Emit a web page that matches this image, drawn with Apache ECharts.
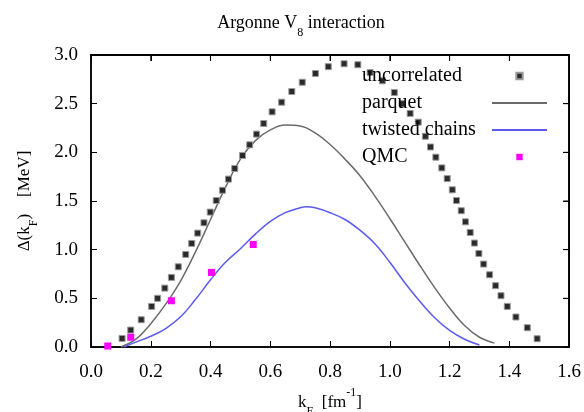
<!DOCTYPE html>
<html><head><meta charset="utf-8">
<script src="https://cdn.jsdelivr.net/npm/echarts@6/dist/echarts.min.js"></script>
<style>html,body{margin:0;padding:0;background:#fff;overflow:hidden}#wrap{position:relative;width:584px;height:412px}#c{width:584px;height:412px}#frame{position:absolute;left:0;top:0;width:584px;height:412px;pointer-events:none}</style>
</head><body><div id="wrap"><div id="c"></div><svg id="frame" xmlns="http://www.w3.org/2000/svg" width="584" height="412"></svg></div>
<script>
// Data
const uncorrelated = [[0.104,0.088],[0.133,0.174],[0.168,0.28],[0.203,0.417],[0.223,0.50],[0.247,0.605],[0.269,0.715],[0.292,0.824],[0.317,0.951],[0.337,1.064],[0.357,1.17],[0.378,1.276],[0.399,1.386],[0.419,1.505],[0.44,1.61],[0.46,1.725],[0.481,1.834],[0.507,1.967],[0.531,2.077],[0.554,2.187],[0.578,2.296],[0.606,2.416],[0.638,2.515],[0.672,2.625],[0.707,2.72],[0.751,2.81],[0.794,2.88],[0.847,2.91],[0.893,2.90],[0.934,2.82],[0.975,2.735],[1.015,2.615],[1.041,2.50],[1.068,2.40],[1.095,2.31],[1.119,2.165],[1.136,2.055],[1.154,1.95],[1.174,1.84],[1.192,1.73],[1.209,1.615],[1.223,1.505],[1.239,1.40],[1.253,1.286],[1.269,1.177],[1.283,1.068],[1.298,0.961],[1.314,0.852],[1.334,0.742],[1.354,0.63],[1.372,0.527],[1.393,0.417],[1.422,0.308],[1.46,0.198],[1.493,0.085]];
const parquetK = [0.10,0.15,0.20,0.25,0.30,0.35,0.40,0.45,0.50,0.55,0.60,0.65,0.70,0.75,0.80,0.85,0.90,0.95,1.00,1.05,1.10,1.15,1.20,1.25,1.30,1.35];
const parquetV = [0.00,0.08,0.24,0.44,0.68,0.98,1.31,1.64,1.93,2.12,2.23,2.28,2.27,2.20,2.08,1.93,1.76,1.55,1.32,1.08,0.84,0.61,0.40,0.22,0.10,0.04];
const twistedK = [0.11,0.15,0.20,0.25,0.30,0.35,0.40,0.45,0.50,0.55,0.60,0.65,0.70,0.72,0.75,0.80,0.85,0.90,0.95,1.00,1.05,1.10,1.15,1.20,1.25,1.30];
const twistedV = [0.00,0.05,0.11,0.19,0.31,0.49,0.69,0.87,1.01,1.16,1.29,1.38,1.43,1.44,1.43,1.38,1.31,1.20,1.06,0.87,0.66,0.47,0.30,0.17,0.08,0.02];
const qmc = [[0.056,0.01],[0.133,0.10],[0.269,0.475],[0.403,0.766],[0.543,1.053]];
const xTicks = {min:0, max:1.6, interval:0.2};
const yTicks = {min:0, max:3.0, interval:0.5};

const serif = '"Liberation Serif","DejaVu Serif",serif';
const pair = (k, v) => k.map((x, i) => [x, v[i]]);
const chart = echarts.init(document.getElementById('c'));
const axisLine = () => ({show:true, onZero:false, lineStyle:{color:'#000', width:1.5}});
const tick = () => ({show:true, inside:true, length:6, lineStyle:{color:'#000', width:1}});
const rich = () => ({
  sub:{fontFamily:serif, fontSize:12, verticalAlign:'bottom', padding:[0,0,-7,0], color:'#000'},
  sup:{fontFamily:serif, fontSize:12, verticalAlign:'top', padding:[-7,0,0,0], color:'#000'}
});
chart.setOption({
  animation:false,
  title:{text:'Argonne V{sub|8} interaction', left:296, top:9, textAlign:'center',
    textStyle:{fontFamily:serif, fontSize:18, fontWeight:'normal', color:'#000', rich:rich()}},
  grid:{left:91, right:13, top:55, bottom:65, outerBoundsContain:'axisLabel',
    show:true, borderColor:'#000', borderWidth:1.5},
  legend:{orient:'vertical', left:362, top:66, padding:0, align:'right', itemWidth:55, itemHeight:8, itemGap:7,
    formatter:n => '{a|' + n + '}',
    textStyle:{fontFamily:serif, fontSize:20, color:'#000',
      rich:{a:{fontFamily:serif, fontSize:20, color:'#000', width:125, align:'left', lineHeight:20}}},
    data:[
      {name:'uncorrelated', lineStyle:{opacity:0}},
      {name:'parquet', itemStyle:{opacity:0}},
      {name:'twisted chains', itemStyle:{opacity:0}},
      {name:'QMC', lineStyle:{opacity:0}}
    ]},
  xAxis:[
    {type:'value', min:xTicks.min, max:xTicks.max, interval:xTicks.interval,
     name:'k{sub|F}  [fm{sup|-1}]', nameLocation:'middle', nameGap:47,
     nameTextStyle:{fontFamily:serif, fontSize:17, color:'#000', rich:rich()},
     axisLine:axisLine(), axisTick:tick(), splitLine:{show:false},
     axisLabel:{fontFamily:serif, fontSize:19, color:'#000', margin:16, formatter:v=>v.toFixed(1)}},
    {type:'value', position:'top', min:xTicks.min, max:xTicks.max, interval:xTicks.interval,
     axisLine:axisLine(), axisTick:tick(), axisLabel:{show:false}, splitLine:{show:false}}
  ],
  yAxis:[
    {type:'value', min:yTicks.min, max:yTicks.max, interval:yTicks.interval,
     name:'Δ(k{sub|F})    [MeV]', nameLocation:'middle', nameGap:58, nameRotate:90,
     nameTextStyle:{fontFamily:serif, fontSize:17, color:'#000', rich:rich()},
     axisLine:axisLine(), axisTick:tick(), splitLine:{show:false},
     axisLabel:{fontFamily:serif, fontSize:19, color:'#000', margin:13, formatter:v=>v.toFixed(1)}},
    {type:'value', position:'right', min:yTicks.min, max:yTicks.max, interval:yTicks.interval,
     axisLine:axisLine(), axisTick:tick(), axisLabel:{show:false}, splitLine:{show:false}}
  ],
  series:[
    {name:'uncorrelated', type:'line', data:uncorrelated, symbol:'rect', symbolSize:6, showAllSymbol:true,
     lineStyle:{opacity:0}, itemStyle:{color:'#2a2a2a', borderColor:'#9a9a9a', borderWidth:1}, z:3},
    {name:'parquet', type:'line', xAxisIndex:1, yAxisIndex:1, data:pair(parquetK, parquetV), smooth:0.4, symbol:'none',
     lineStyle:{color:'#6b6b6b', width:1.5}, itemStyle:{color:'#6b6b6b'}},
    {name:'twisted chains', type:'line', xAxisIndex:1, yAxisIndex:1, data:pair(twistedK, twistedV), smooth:0.4, symbol:'none',
     lineStyle:{color:'#5b5bf0', width:1.5}, itemStyle:{color:'#5b5bf0'}},
    {name:'QMC', type:'line', data:qmc, symbol:'rect', symbolSize:7, showAllSymbol:true,
     lineStyle:{opacity:0}, itemStyle:{color:'#ff00ff'}, z:4}
  ]
});
// Mirror frame (top and right edges with inward ticks), positioned through the chart's own scales
(function drawFrame(){
  let conv = (x, y) => chart.convertToPixel({gridIndex:0}, [x, y]);
  let tl = conv(xTicks.min, yTicks.max), br = conv(xTicks.max, yTicks.min);
  if (!tl || !br || isNaN(tl[0])) {
    const r = chart.getModel().getComponent('grid', 0).coordinateSystem.getRect();
    tl = [r.x, r.y]; br = [r.x + r.width, r.y + r.height];
    conv = (x, y) => [tl[0] + (x - xTicks.min) / (xTicks.max - xTicks.min) * (br[0] - tl[0]),
                      br[1] - (y - yTicks.min) / (yTicks.max - yTicks.min) * (br[1] - tl[1])];
  }
  const svg = document.getElementById('frame');
  const ns = 'http://www.w3.org/2000/svg';
  const line = (x1, y1, x2, y2, w) => {
    const l = document.createElementNS(ns, 'line');
    l.setAttribute('x1', x1); l.setAttribute('y1', y1); l.setAttribute('x2', x2); l.setAttribute('y2', y2);
    l.setAttribute('stroke', '#000'); l.setAttribute('stroke-width', w);
    svg.appendChild(l);
  };
  line(tl[0] - 0.75, tl[1], br[0] + 0.75, tl[1], 1.5);
  line(br[0], tl[1], br[0], br[1], 1.5);
  for (let i = 1; xTicks.min + i * xTicks.interval < xTicks.max - 1e-9; i++) {
    const p = conv(xTicks.min + i * xTicks.interval, yTicks.max);
    line(p[0], tl[1], p[0], tl[1] + 6, 1);
  }
  for (let i = 1; yTicks.min + i * yTicks.interval < yTicks.max - 1e-9; i++) {
    const p = conv(xTicks.max, yTicks.min + i * yTicks.interval);
    line(br[0], p[1], br[0] - 6, p[1], 1);
  }
})();
</script></body></html>
